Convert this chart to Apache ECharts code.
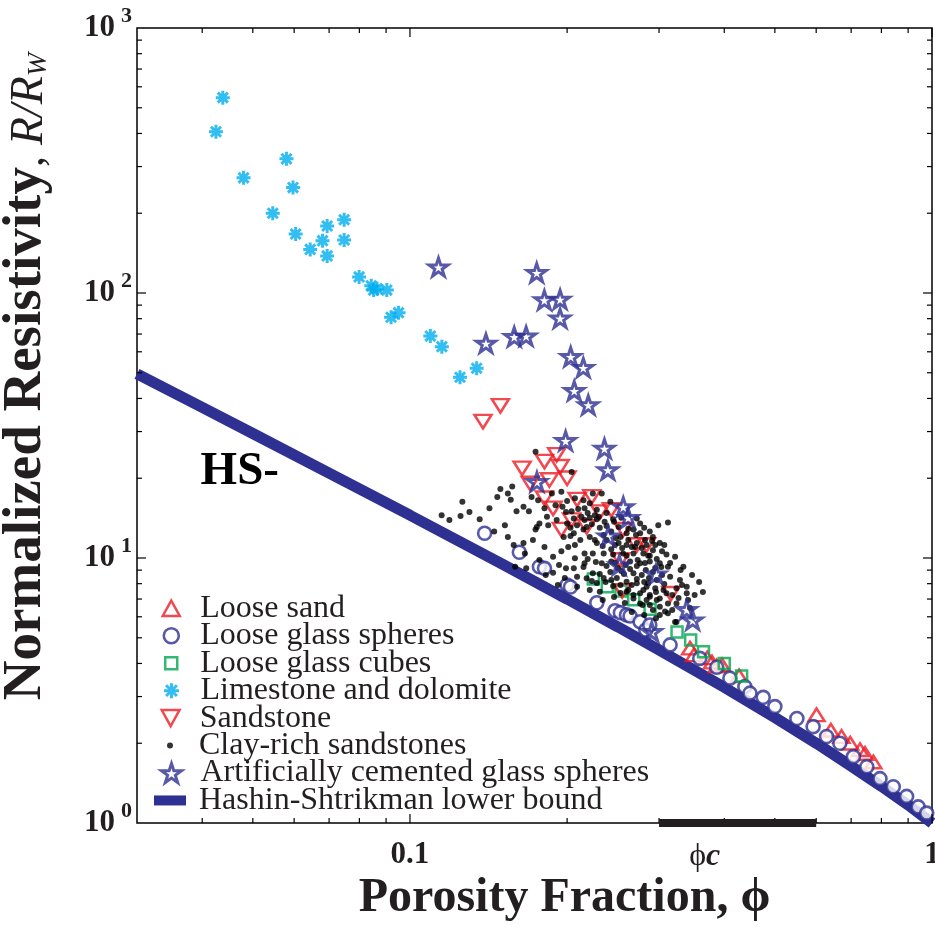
<!DOCTYPE html>
<html><head><meta charset="utf-8">
<script src="https://cdn.jsdelivr.net/npm/echarts@6/dist/echarts.min.js"></script>
<style>html,body{margin:0;padding:0;background:#fff}#c{width:935px;height:935px}</style>
</head><body><div id="c"></div>
<script>
// ---------------- data: [porosity fraction, R/Rw] ----------------
const looseSand = [[0.344,4.57],[0.350,4.31],[0.371,4.20],[0.379,4.05],[0.387,3.91],[0.396,3.95],[0.427,3.59],
  [0.601,2.56],[0.640,2.24],[0.671,2.12],[0.697,2.00],[0.728,1.89],[0.744,1.83],[0.772,1.70]];
const looseGlassSpheres = [[0.139,12.40],[0.162,10.51],[0.177,9.27],[0.181,9.14],[0.200,7.91],[0.203,7.77],[0.228,6.78],
  [0.247,6.32],[0.253,6.22],[0.260,6.10],[0.264,6.04],[0.276,5.75],[0.283,5.35],[0.288,5.59],[0.315,4.70],[0.359,4.18],
  [0.387,3.87],[0.410,3.52],[0.438,3.27],[0.448,3.09],[0.475,2.98],[0.500,2.75],[0.551,2.48],[0.592,2.31],[0.628,2.12],
  [0.666,2.00],[0.707,1.78],[0.750,1.63],[0.795,1.47],[0.843,1.37],[0.894,1.26],[0.941,1.15],[0.977,1.09]];
const looseGlassCubes = [[0.2245,8.33],[0.2388,7.79],[0.2536,7.51],[0.2683,6.96],[0.2884,6.40],[0.3248,5.26],
  [0.3449,4.90],[0.3650,4.43],[0.4000,4.00],[0.4318,3.59]];
const limestoneDolomite = [[0.0438,546],[0.0425,406],[0.0580,321],[0.0480,272],[0.0597,250],[0.0546,200],[0.0748,189],
  [0.0694,179],[0.0604,167],[0.0748,158.5],[0.0680,157.6],[0.0644,146],[0.0694,138],[0.0799,115],[0.0843,106.5],
  [0.0852,102.6],[0.0903,102.6],[0.0865,103.8],[0.0951,84.3],[0.0920,81],[0.1094,68.8],[0.1151,62.7],[0.1247,48.1],[0.1342,52]];
const sandstone = [[0.149,37.5],[0.138,32.7],[0.164,21.8],[0.170,19.1],[0.181,23.1],[0.191,24.5],[0.194,22.1],[0.185,19.7],
  [0.200,20.0],[0.181,16.8],[0.188,15.4],[0.209,16.6],[0.223,17.0],[0.204,13.9],[0.195,12.8],[0.231,14.9],[0.243,15.2],
  [0.218,13.1],[0.256,12.8],[0.272,11.2],[0.284,11.2],[0.253,9.83],[0.255,7.52],[0.316,7.33]];
const clayRichSandstones = [
  [0.174,25.2],[0.204,21.1],[0.157,18.6],[0.154,17.5],[0.147,17.0],[0.156,16.6],[0.126,16.3],[0.165,15.6],[0.169,15.0],[0.160,15.0],
  [0.115,14.5],[0.125,14.4],[0.136,14.0],[0.175,13.1],[0.174,12.8],[0.154,12.0],[0.158,11.2],[0.165,11.4],[0.166,10.4],[0.159,9.27],
  [0.167,9.15],[0.188,10.1],[0.195,10.6],[0.201,11.0],[0.207,9.97],[0.216,10.4],[0.188,8.80],[0.199,9.15],[0.206,9.15],[0.216,9.55],
  [0.187,17.5],[0.195,17.8],[0.200,16.4],[0.207,16.8],[0.215,16.5],[0.221,16.1],[0.233,17.5],[0.224,17.5],[0.242,16.3],[0.216,15.4],
  [0.228,15.2],[0.204,15.0],[0.206,14.1],[0.213,14.3],[0.221,14.2],[0.228,14.0],[0.236,13.7],[0.245,14.0],[0.191,13.9],[0.200,13.5],
  [0.209,13.3],[0.218,13.1],[0.231,13.0],[0.183,14.3],[0.184,13.3],[0.177,13.5],[0.272,14.1],[0.276,13.5],[0.312,13.6],[0.268,12.8],
  [0.260,12.4],[0.253,12.0],[0.276,12.4],[0.288,12.6],[0.292,12.0],[0.197,12.0],[0.206,12.4],[0.212,11.7],[0.221,12.0],[0.228,11.4],
  [0.238,11.7],[0.247,11.2],[0.260,11.2],[0.272,11.4],[0.284,11.2],[0.301,11.4],[0.292,10.7],[0.310,10.3],[0.322,10.1],[0.280,10.4],
  [0.268,10.4],[0.256,10.4],[0.245,10.3],[0.235,10.4],[0.224,10.4],[0.233,9.55],[0.243,9.69],[0.264,9.69],[0.276,9.55],[0.288,9.69],
  [0.301,9.55],[0.312,9.27],[0.334,9.27],[0.224,8.76],[0.268,8.76],[0.278,8.63],[0.315,8.50],[0.329,8.26],[0.339,7.79],[0.260,8.14],
  [0.272,8.03],[0.284,7.79],[0.295,7.69],[0.306,7.57],[0.276,7.36],[0.288,7.14],[0.301,7.04],[0.312,6.74],[0.324,6.74],[0.339,7.36],
  [0.301,6.55],[0.312,6.19],[0.322,5.74],[0.218,8.38],[0.209,8.50],[0.209,7.79],[0.221,7.57],[0.231,7.46],[0.268,7.04],[0.276,6.74],
  [0.288,6.65],[0.308,6.28],[0.266,7.91],[0.286,8.03],[0.260,7.46],[0.268,7.25],[0.280,7.57],[0.288,7.25],[0.310,7.36],[0.324,7.69],
  [0.351,7.25],[0.284,6.94],[0.297,6.94],[0.292,6.37],[0.324,5.74],
  [0.219,14.8],[0.226,14.5],[0.238,14.8],[0.251,13.1],[0.243,12.6],[0.235,12.2],[0.248,11.9],[0.262,11.7],[0.255,10.9],[0.266,11.0],
  [0.282,11.7],[0.295,11.2],[0.304,10.6],[0.286,10.2],[0.273,9.83],[0.259,9.41],[0.250,9.17],[0.242,8.86],[0.235,8.41],[0.249,8.41],
  [0.257,8.70],[0.283,9.01],[0.295,9.17],[0.304,8.63],[0.297,8.26],[0.287,8.41],[0.245,7.84],[0.237,8.12],[0.330,9.01],[0.347,8.63],
  [0.358,8.12],[0.341,6.94],[0.318,6.37],[0.327,7.06],[0.215,12.8],[0.203,13.0],[0.196,15.6],[0.190,15.8],[0.181,15.4],[0.176,16.5],
  [0.171,17.0],[0.149,18.2],[0.142,15.4],[0.130,14.9],[0.119,13.9],[0.152,13.3],[0.145,12.6],[0.172,11.7],[0.181,11.0],[0.177,9.83],
  [0.193,9.41],[0.182,8.63],[0.198,8.41],[0.192,7.91],[0.228,8.05],[0.234,6.94],[0.246,7.12],[0.258,6.76],[0.253,7.38],[0.266,6.26],
  [0.281,6.10],[0.296,5.93],[0.344,6.48],[0.364,7.44],
  [0.216,13.9],[0.223,13.4],[0.230,14.3],[0.238,13.2],[0.246,13.7],[0.254,14.2],[0.262,12.9],[0.271,12.2],[0.281,13.0],[0.291,11.6],
  [0.299,13.3],[0.226,11.7],[0.234,11.1],[0.243,10.8],[0.251,11.4],[0.260,10.2],[0.270,11.0],[0.278,10.9],[0.288,10.2],[0.297,9.91],
  [0.307,11.2],[0.219,9.91],[0.227,9.66],[0.238,9.33],[0.247,9.58],[0.254,8.93],[0.264,9.09],[0.272,9.33],[0.282,9.58],[0.292,8.86],
  [0.303,9.25],[0.315,9.58],[0.231,8.70],[0.243,8.26],[0.253,7.91],[0.262,7.57],[0.272,8.33],[0.281,8.12],[0.296,7.44],[0.307,7.98],
  [0.318,7.25],[0.332,7.91],[0.223,8.19],[0.215,9.25],[0.207,11.2],[0.199,14.9],[0.210,15.3],[0.203,12.1],[0.279,6.65],[0.301,6.10]];
const cementedGlassSpheres = [[0.1134,125.3],[0.1749,119.3],[0.1809,94.1],[0.1939,94.7],[0.1939,80.3],[0.1398,64.6],[0.1584,68.4],
  [0.1669,68.8],[0.2032,57.5],[0.2148,52.3],[0.2064,42.8],[0.2196,37.8],[0.1987,27.7],[0.2358,25.9],[0.2394,21.5],[0.1751,19.4],
  [0.2562,15.6],[0.2619,14.2],[0.2398,12.1],[0.2518,9.41],[0.2960,8.70],[0.3389,6.39],[0.3479,5.83],[0.2905,5.27]];
const hsPhi = [0.03,0.04,0.05,0.07,0.1,0.15,0.2,0.25,0.3,0.4,0.5,0.6,0.7,0.8,0.9,1];
const hsR   = [49.5,37,29.5,20.9,14.5,9.5,7.0,5.5,4.5,3.25,2.5,2.0,1.64,1.375,1.17,1];
const criticalPorosityRange = [0.3, 0.6];
const phiCLabelAt = 0.367;
const hsLabelAt = [0.0472, 21.1];
const xRange = [0.03, 1];
const yRange = [1, 1000];
const xMajorTicks = [0.1, 1];
const xMinorTicks = [0.04,0.05,0.06,0.07,0.08,0.09,0.2,0.3,0.4,0.5,0.6,0.7,0.8,0.9];
const yMajorTicks = [10, 100];
const yMinorTicks = [2,3,4,5,6,7,8,9,20,30,40,50,60,70,80,90,200,300,400,500,600,700,800,900];
const legendNames = ['Loose sand','Loose glass spheres','Loose glass cubes','Limestone and dolomite','Sandstone',
  'Clay-rich sandstones','Artificially cemented glass spheres','Hashin-Shtrikman lower bound'];

// ---------------- styling ----------------
const SERIF = '"Liberation Serif","Times New Roman",Times,serif';
const TXT = '#231F20', NAVY = '#2E3192', RED = '#ED1C24', GREEN = '#00A651', CYAN = '#00AEEF';
const STAR = 'path://M0,-1L0.2245,-0.309L0.9511,-0.309L0.3633,0.118L0.5878,0.809L0,0.382L-0.5878,0.809L-0.3633,0.118L-0.9511,-0.309L-0.2245,-0.309Z';
const ASTER = 'path://M0,-1L0,1M-1,0L1,0M-0.72,-0.72L0.72,0.72M-0.72,0.72L0.72,-0.72';
const TRI_UP = 'path://M0,-1L1,0.8L-1,0.8Z';
const TRI_DN = 'path://M0,1L1,-0.8L-1,-0.8Z';
const SQUARE = 'path://M-1,-1L1,-1L1,1L-1,1Z';

const chart = echarts.init(document.getElementById('c'), null, {renderer: 'canvas'});

function tickSeries(values, major, isX) {
  return {
    type: 'custom', silent: true, z: 10, clip: false,
    dimensions: ['x', 'y', 'major'], encode: {x: 0, y: 1},
    data: values.map(v => isX ? [v, yRange[0], major] : [xRange[0], v, major]),
    renderItem: function (params, api) {
      const len = api.value(2) ? 9 : 5;
      const st = {stroke: '#000', lineWidth: 1.2};
      if (isX) {
        const v = api.value(0);
        const b = api.coord([v, yRange[0]]), t = api.coord([v, yRange[1]]);
        return {type: 'group', children: [
          {type: 'line', shape: {x1: b[0], y1: b[1], x2: b[0], y2: b[1] - len}, style: st},
          {type: 'line', shape: {x1: t[0], y1: t[1], x2: t[0], y2: t[1] + len}, style: st}]};
      } else {
        const v = api.value(1);
        const l = api.coord([xRange[0], v]), r = api.coord([xRange[1], v]);
        return {type: 'group', children: [
          {type: 'line', shape: {x1: l[0], y1: l[1], x2: l[0] + len, y2: l[1]}, style: st},
          {type: 'line', shape: {x1: r[0], y1: r[1], x2: r[0] - len, y2: r[1]}, style: st}]};
      }
    }
  };
}

function scatter(name, data, symbol, size, itemStyle, extra) {
  return Object.assign({
    type: 'scatter', name: name, data: data, symbol: symbol, symbolSize: size,
    symbolKeepAspect: true, itemStyle: itemStyle, silent: true, emphasis: {disabled: true}
  }, extra || {});
}

// one legend block per entry: [icon width, icon height, extra]
const LEG_ICON_CX = 170, LEG_TEXT_X = 199, LEG_ROW0 = 606, LEG_STEP = 27.45;
const legendIcons = [[17, 16], [15, 15], [12, 12], [15, 15], [19, 16], [6, 6], [20, 19], [32, 10, {icon: 'rect'}]];
const legends = legendNames.map(function (nm, i) {
  const w = legendIcons[i][0], h = legendIcons[i][1];
  const left = LEG_ICON_CX - w / 2;
  return Object.assign({
    orient: 'vertical', left: left, top: LEG_ROW0 + i * LEG_STEP - 13.7, padding: 0, itemGap: 0,
    itemWidth: w, itemHeight: h, selectedMode: false,
    textStyle: {fontFamily: SERIF, fontSize: 32, color: TXT, lineHeight: 27.4,
                padding: [0, 0, 0, LEG_TEXT_X - 5 - left - w]},
    itemStyle: {borderWidth: 'inherit'},
    data: [nm]
  }, legendIcons[i][2] || {});
});

const option = {
  animation: false,
  backgroundColor: '#fff',
  grid: {left: 137, right: 3, top: 28, bottom: 112, show: true, borderColor: '#000', borderWidth: 1.5,
         containLabel: false, outerBoundsMode: 'none'},
  legend: legends,
  xAxis: {
    type: 'log', logBase: 10, min: xRange[0], max: xRange[1],
    axisLine: {show: false}, axisTick: {show: false}, splitLine: {show: false},
    axisLabel: {
      margin: 16, fontFamily: SERIF, fontSize: 31, fontWeight: 'bold', color: TXT,
      formatter: function (v) {
        return xMajorTicks.some(t => Math.abs(Math.log10(v) - Math.log10(t)) < 1e-6) ? String(+v.toPrecision(6)) : '';
      }
    },
    name: 'Porosity Fraction, \u03D5', nameLocation: 'middle', nameGap: 40,
    nameTextStyle: {fontFamily: SERIF, fontSize: 48, fontWeight: 'bold', color: TXT, padding: [0, 0, 0, 60]}
  },
  yAxis: {
    type: 'log', logBase: 10, min: yRange[0], max: yRange[1],
    axisLine: {show: false}, axisTick: {show: false}, splitLine: {show: false},
    axisLabel: {
      margin: 5,
      formatter: function (v) { return '{b|10}{s|' + Math.round(Math.log10(v)) + '}'; },
      rich: {
        b: {fontFamily: SERIF, fontSize: 31, fontWeight: 'bold', color: TXT, lineHeight: 46},
        s: {fontFamily: SERIF, fontSize: 22, fontWeight: 'bold', color: TXT, lineHeight: 22, verticalAlign: 'top', padding: [0, 0, 0, 6]}
      }
    },
    name: '{a|Normalized Resistivity}{b|, }{c|R/R}{d|W}', nameLocation: 'middle', nameGap: 84,
    nameTextStyle: {
      padding: [0, 0, 0, 98],
      rich: {
        a: {fontFamily: SERIF, fontSize: 55, fontWeight: 'bold', color: TXT, lineHeight: 55, verticalAlign: 'bottom'},
        b: {fontFamily: SERIF, fontSize: 44, color: TXT, lineHeight: 44, verticalAlign: 'bottom'},
        c: {fontFamily: SERIF, fontSize: 46, fontStyle: 'italic', color: TXT, lineHeight: 46, verticalAlign: 'bottom'},
        d: {fontFamily: SERIF, fontSize: 28, fontStyle: 'italic', color: TXT, lineHeight: 26, verticalAlign: 'bottom'}
      }
    }
  },
  series: [
    {type: 'line', name: legendNames[7], data: hsPhi.map((p, i) => [p, hsR[i]]), symbol: 'none', showSymbol: false,
     lineStyle: {width: 11, color: NAVY}, itemStyle: {color: NAVY}, silent: true, z: 1},
    scatter(legendNames[0], looseSand, TRI_UP, [16, 14], {color: 'transparent', borderColor: RED, borderWidth: 2.5}),
    scatter(legendNames[1], looseGlassSpheres, 'circle', 13, {color: '#fff', borderColor: NAVY, borderWidth: 2.6}),
    scatter(legendNames[2], looseGlassCubes, SQUARE, 11, {color: 'transparent', borderColor: GREEN, borderWidth: 2.5}),
    scatter(legendNames[3], limestoneDolomite, ASTER, 14, {color: CYAN, borderColor: CYAN, borderWidth: 3}),
    scatter(legendNames[4], sandstone, TRI_DN, [17, 15], {color: 'transparent', borderColor: RED, borderWidth: 2.5}),
    scatter(legendNames[5], clayRichSandstones, 'circle', 6, {color: '#000'}),
    scatter(legendNames[6], cementedGlassSpheres, STAR, 19, {color: 'transparent', borderColor: NAVY, borderWidth: 3}),
    {type: 'line', name: 'critical porosity range', data: criticalPorosityRange.map(p => [p, yRange[0]]),
     symbol: 'none', lineStyle: {width: 8, color: TXT}, clip: false, silent: true, z: 11},
    {type: 'scatter', name: 'phi-c label', data: [[phiCLabelAt, yRange[0]]], symbolSize: 0.1, clip: false, silent: true,
     itemStyle: {color: TXT},
     label: {show: true, position: 'bottom', distance: 18, formatter: '{a|\u03D5}{b|c}',
       rich: {a: {fontFamily: SERIF, fontSize: 32, color: TXT, opacity: 1}, b: {fontFamily: SERIF, fontSize: 32, fontStyle: 'italic', fontWeight: 'bold', color: TXT, opacity: 1}}}},
    {type: 'scatter', name: 'HS label', data: [hsLabelAt], symbolSize: 0.1, silent: true, itemStyle: {color: TXT},
     label: {show: true, position: 'inside', formatter: 'HS-', fontFamily: SERIF, fontSize: 47, fontWeight: 'bold',
             color: '#000', textBorderWidth: 0, opacity: 1}},
    tickSeries(xMinorTicks, 0, true), tickSeries(xMajorTicks, 1, true),
    tickSeries(yMinorTicks, 0, false), tickSeries(yMajorTicks, 1, false)
  ]
};
chart.setOption(option);
</script>
</body></html>
